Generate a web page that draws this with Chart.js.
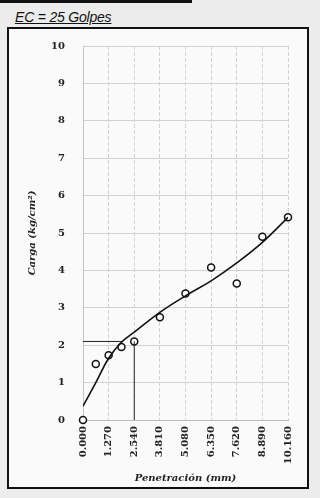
<!DOCTYPE html>
<html>
<head>
<meta charset="utf-8">
<script src="https://cdn.jsdelivr.net/npm/chart.js@4"></script>
<style>
  html, body { margin: 0; padding: 0; background: #ececec; }
  #wrap { position: relative; width: 320px; height: 498px; overflow: hidden; }
  #topbar { position: absolute; left: 0; top: 0; width: 192px; height: 3px; background: #111; }
  #titulo { position: absolute; left: 15px; top: 9px; font: italic 14px "Liberation Sans", sans-serif;
            letter-spacing: -0.2px; color: #111; text-decoration: underline; }
  #marco { position: absolute; left: 7px; top: 27px; width: 298px; height: 458px;
           border: 2px solid #111; background: #fafafa; }
  canvas { position: absolute; left: 0; top: 0; }
</style>
</head>
<body>
<div id="wrap">
  <div id="topbar"></div>
  <div id="titulo">EC = 25 Golpes</div>
  <div id="marco"></div>
  <canvas id="graficoCBR" width="320" height="498"></canvas>
</div>
<script>
// lecturas del ensayo
const penetracion = [0, 0.635, 1.27, 1.905, 2.54, 3.81, 5.08, 6.35, 7.62, 8.89, 10.16];
const carga = [0, 1.5, 1.73, 1.95, 2.1, 2.75, 3.38, 4.08, 3.65, 4.9, 5.42];
// curva ajustada (trazada a mano en el original)
const curvaCarga = [0.37, 1.0, 1.65, 2.08, 2.35, 2.88, 3.32, 3.72, 4.2, 4.75, 5.42];
// lineas de lectura a 2.54 mm
const lineaH = [[0, 2.1], [1.93, 2.1]];
const lineaV = [[2.54, 0], [2.54, 2.1]];
const ticksX = [0, 1.27, 2.54, 3.81, 5.08, 6.35, 7.62, 8.89, 10.16];
const ticksY = [0, 1, 2, 3, 4, 5, 6, 7, 8, 9, 10];

const ctx = document.querySelector("#graficoCBR");
const fuenteTick = { family: "DejaVu Serif", size: 10, weight: "bold" };
const fuenteTitulo = { family: "DejaVu Serif", size: 10, weight: "bold", style: "italic" };

const pares = (xs, ys) => xs.map((x, i) => ({ x: x, y: ys[i] }));

new Chart(ctx, {
  type: "scatter",
  data: {
    datasets: [
      {
        label: "Curva",
        data: pares(penetracion, curvaCarga),
        showLine: true,
        borderColor: "#111",
        borderWidth: 1.6,
        pointRadius: 0,
        tension: 0.4,
      },
      {
        label: "Horizontal",
        data: lineaH.map(p => ({ x: p[0], y: p[1] })),
        showLine: true,
        borderColor: "#222",
        borderWidth: 1,
        pointRadius: 0,
      },
      {
        label: "Vertical",
        data: lineaV.map(p => ({ x: p[0], y: p[1] })),
        showLine: true,
        borderColor: "#222",
        borderWidth: 1,
        pointRadius: 0,
      },
      {
        label: "Carga",
        data: pares(penetracion, carga),
        showLine: false,
        clip: false,
        pointRadius: 3.5,
        pointBorderWidth: 1.5,
        pointBorderColor: "#111",
        pointBackgroundColor: "#fafafa",
      },
    ],
  },
  options: {
    responsive: false,
    animation: false,
    layout: { padding: { left: 12, right: 32, top: 46, bottom: 14 } },
    plugins: { legend: { display: false }, tooltip: { enabled: false } },
    scales: {
      x: {
        type: "linear",
        min: 0,
        max: 10.16,
        afterBuildTicks: s => { s.ticks = ticksX.map(v => ({ value: v })); },
        afterFit: s => { s.height = 64; },
        grid: { color: "#d2d2d2", drawTicks: false },
        border: { color: "#bbbbbb", dash: [4, 2] },
        ticks: {
          color: "#222",
          font: fuenteTick,
          minRotation: 90,
          maxRotation: 90,
          padding: 6,
          callback: v => v.toFixed(3),
        },
        title: { display: true, text: "Penetración (mm)", color: "#222", font: fuenteTitulo, padding: { top: 2, bottom: 0 } },
      },
      y: {
        min: 0,
        max: 10,
        afterBuildTicks: s => { s.ticks = ticksY.map(v => ({ value: v })); },
        afterFit: s => { s.width = 71; },
        grid: { color: "#d2d2d2", drawTicks: false },
        border: { color: "#c4c4c4" },
        ticks: { color: "#222", font: fuenteTick, padding: 18 },
        title: { display: true, text: "Carga (kg/cm²)", color: "#222", font: fuenteTitulo, padding: { top: 14, bottom: 0 } },
      },
    },
  },
});
</script>
</body>
</html>
